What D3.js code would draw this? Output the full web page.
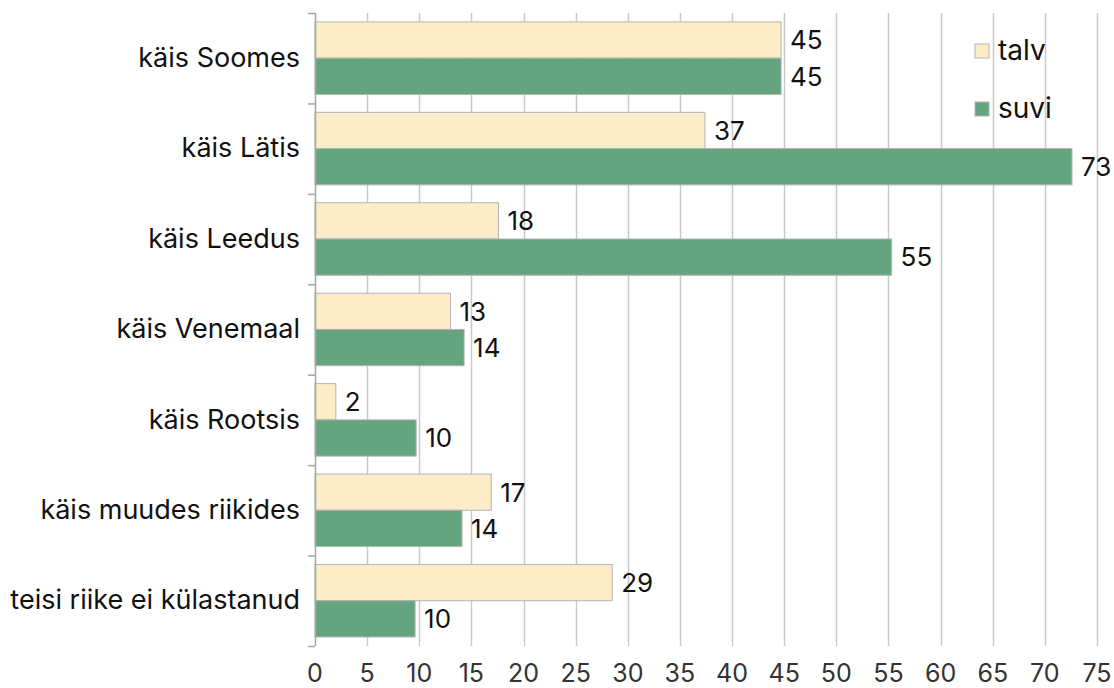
<!DOCTYPE html>
<html><head><meta charset="utf-8">
<script src="https://cdn.jsdelivr.net/npm/d3@7"></script>
<style>body{margin:0;background:#fff}svg{display:block;font-family:Inter,"Noto Sans",sans-serif}</style>
</head><body><svg id="c" width="1114" height="688"></svg>
<script>
const categories = ["käis Soomes","käis Lätis","käis Leedus","käis Venemaal","käis Rootsis","käis muudes riikides","teisi riike ei külastanud"];
const seriesNames = ["talv","suvi"];
const talv = [44.7, 37.4, 17.6, 13.0, 2.0, 16.9, 28.5];
const suvi = [44.7, 72.6, 55.3, 14.3, 9.7, 14.1, 9.6];
const xTicks = [0,5,10,15,20,25,30,35,40,45,50,55,60,65,70,75];
const colors = {talv:"#fcedc8", suvi:"#64a47e"};

const svg = d3.select("#c");
const x = d3.scaleLinear().domain([0,75]).range([315,1097]);
const y0 = d3.scaleBand().domain(categories).range([13,646]);
const y1 = d3.scaleBand().domain(seriesNames).range([8.9, 81.4]);
const data = categories.map((c,i)=>({cat:c, vals:[{s:"talv",v:talv[i]},{s:"suvi",v:suvi[i]}]}));

// gridlines
svg.append("g").selectAll("line").data(xTicks.slice(1)).join("line")
  .attr("x1",d=>Math.round(x(d))+0.5).attr("x2",d=>Math.round(x(d))+0.5)
  .attr("y1",13).attr("y2",646).attr("stroke","#c9c9c9").attr("stroke-width",1.5);

// bars
const g = svg.append("g").selectAll("g").data(data).join("g")
  .attr("transform",d=>`translate(0,${y0(d.cat)})`);
g.selectAll("rect").data(d=>d.vals).join("rect")
  .attr("x",x(0)).attr("y",d=>y1(d.s)).attr("width",d=>x(d.v)-x(0)).attr("height",y1.bandwidth())
  .attr("fill",d=>colors[d.s]).attr("stroke","#b3b3b3").attr("stroke-width",1);
g.selectAll("text").data(d=>d.vals).join("text")
  .attr("x",d=>x(d.v)+9).attr("y",d=>y1(d.s)+y1.bandwidth()/2).attr("dy","0.36em")
  .attr("font-size",26).attr("fill","#111").text(d=>Math.round(d.v));

// left axis
const ya = svg.append("g");
ya.append("line").attr("x1",315.5).attr("x2",315.5).attr("y1",13).attr("y2",646).attr("stroke","#a6a6a6").attr("stroke-width",1.5);
const bounds = categories.map(c=>y0(c)).concat([646]);
ya.selectAll("line.t").data(bounds).join("line").attr("class","t")
  .attr("x1",308).attr("x2",315).attr("y1",d=>d+0.5).attr("y2",d=>d+0.5).attr("stroke","#a6a6a6").attr("stroke-width",1.5);
ya.selectAll("text").data(categories).join("text")
  .attr("x",300).attr("y",d=>y0(d)+y0.bandwidth()/2).attr("dy","0.32em")
  .attr("text-anchor","end").attr("font-size",27).attr("fill","#111").text(d=>d);

// x tick labels
svg.append("g").selectAll("text").data(xTicks).join("text")
  .attr("x",d=>x(d)).attr("y",682).attr("text-anchor","middle")
  .attr("font-size",25).attr("fill","#333").text(d=>d);

// legend
const lg = svg.append("g").selectAll("g").data(seriesNames).join("g")
  .attr("transform",(d,i)=>`translate(975,${44+i*58})`);
lg.append("rect").attr("width",14).attr("height",14).attr("fill",d=>colors[d]).attr("stroke","#b3b3b3");
lg.append("text").attr("x",23).attr("y",7).attr("dy","0.32em").attr("font-size",28).attr("fill","#111").text(d=>d);
</script></body></html>
